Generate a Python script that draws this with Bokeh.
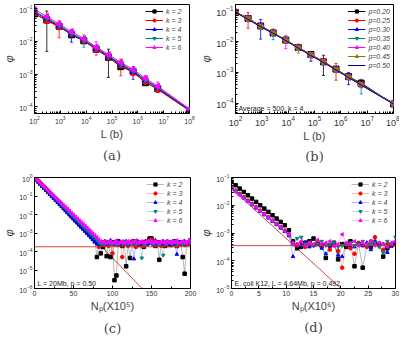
import math
from bokeh.plotting import figure
from bokeh.models import (ColumnDataSource, Whisker, TeeHead, Legend, LegendItem, Label,
                          Span, FixedTicker, Title)
from bokeh.layouts import column, row
from bokeh.embed import file_html
from bokeh.resources import INLINE

# ---------------- data ----------------
# (a) phi vs L for several k
L_a = [100, 300, 900, 2700, 8100, 24300, 72900, 218700, 656100, 1968300, 5904900, 1e8]
k_labels = ["k = 2", "k = 3", "k = 4", "k = 5", "k = 6"]
phi_a_k2 = [0.070, 0.045, 0.029, 0.016, 0.0105, 0.0058, 0.0033, 0.0017, 0.0012, 0.00055, 0.00036, 0.000078]
phi_a_k3 = [0.072, 0.043, 0.028, 0.017, 0.0108, 0.0056, 0.0034, 0.0019, 0.0011, 0.00060, 0.00034, 0.000076]
phi_a_k4 = [0.078, 0.050, 0.030, 0.0165, 0.0110, 0.0062, 0.0035, 0.0020, 0.0012, 0.00065, 0.00038, 0.000080]
phi_a_k5 = [0.082, 0.052, 0.031, 0.0180, 0.0112, 0.0064, 0.0037, 0.0021, 0.0013, 0.00068, 0.00040, 0.000084]
phi_a_k6 = [0.095, 0.058, 0.034, 0.0200, 0.0122, 0.0068, 0.0040, 0.0023, 0.0014, 0.00075, 0.00043, 0.000088]
sig_a_k2 = [0.004, 0.040, 0.003, 0.002, 0.001, 0.0005, 0.0025, 0.0002, 0.0001, 0.00005, 0.00003, 0.000004]
sig_a_k3 = [0.004, 0.004, 0.015, 0.002, 0.001, 0.0006, 0.0003, 0.0010, 0.0001, 0.00006, 0.00003, 0.000004]
sig_a_k4 = [0.004, 0.004, 0.003, 0.007, 0.001, 0.0006, 0.0003, 0.0002, 0.0005, 0.00006, 0.00004, 0.000004]
sig_a_k5 = [0.004, 0.004, 0.003, 0.002, 0.0045, 0.0006, 0.0003, 0.0002, 0.0001, 0.00020, 0.00004, 0.000004]
sig_a_k6 = [0.005, 0.005, 0.006, 0.003, 0.001, 0.0030, 0.0004, 0.0003, 0.0001, 0.00015, 0.00015, 0.000005]

# (b) phi vs L for several p
L_b = [100, 300, 900, 2700, 8100, 24300, 72900, 218700, 656100, 1968300, 5904900, 1e8]
p_labels = ["p=0.20", "p=0.25", "p=0.30", "p=0.35", "p=0.40", "p=0.45", "p=0.50"]
phi_b_20 = [0.088, 0.056, 0.032, 0.0190, 0.0112, 0.0064, 0.0038, 0.0022, 0.00128, 0.00073, 0.00045, 0.000095]
phi_b_25 = [0.092, 0.057, 0.031, 0.0195, 0.0110, 0.0066, 0.0037, 0.0023, 0.00126, 0.00072, 0.00041, 0.000098]
phi_b_30 = [0.087, 0.054, 0.032, 0.0190, 0.0108, 0.0063, 0.0036, 0.0022, 0.00124, 0.00070, 0.00040, 0.000100]
phi_b_35 = [0.090, 0.055, 0.030, 0.0185, 0.0112, 0.0065, 0.0037, 0.0021, 0.00125, 0.00071, 0.00040, 0.000097]
phi_b_40 = [0.089, 0.054, 0.031, 0.0190, 0.0109, 0.0063, 0.0036, 0.0022, 0.00122, 0.00069, 0.00039, 0.000099]
phi_b_45 = [0.088, 0.055, 0.031, 0.0190, 0.0111, 0.0062, 0.0037, 0.0022, 0.00124, 0.00071, 0.00040, 0.000096]
phi_b_50 = [0.088, 0.052, 0.030, 0.0185, 0.0107, 0.0061, 0.0035, 0.0021, 0.00120, 0.00068, 0.00039, 0.000094]
sig_b_20 = [0.006, 0.004, 0.002, 0.0012, 0.0008, 0.0005, 0.0003, 0.0014, 0.0001, 0.00005, 0.00005, 0.000006]
sig_b_25 = [0.012, 0.030, 0.002, 0.0012, 0.0008, 0.0005, 0.0003, 0.0002, 0.0007, 0.00005, 0.00003, 0.000006]
sig_b_30 = [0.005, 0.004, 0.020, 0.0012, 0.0008, 0.0005, 0.0003, 0.0002, 0.0001, 0.0003, 0.00003, 0.000006]
sig_b_35 = [0.005, 0.004, 0.002, 0.0070, 0.0008, 0.0005, 0.0003, 0.0002, 0.0001, 0.00005, 0.0002, 0.000006]
sig_b_40 = [0.005, 0.004, 0.002, 0.0012, 0.0050, 0.0005, 0.0003, 0.0002, 0.0001, 0.00005, 0.00003, 0.000006]
sig_b_45 = [0.005, 0.004, 0.002, 0.0012, 0.0008, 0.0020, 0.0003, 0.0002, 0.0001, 0.00005, 0.00003, 0.000006]
sig_b_50 = [0.005, 0.004, 0.002, 0.0012, 0.0008, 0.0005, 0.0012, 0.0002, 0.0001, 0.00005, 0.00003, 0.000006]

# (c) log10(phi) vs N_p (x10^5), L = 20Mb, p = 0.50
N_c = [i * 2.5 for i in range(81)]
c_k2_decay = [0, -0.11, -0.22, -0.33, -0.44, -0.55, -0.66, -0.77, -0.88, -0.99,
              -1.10, -1.20, -1.31, -1.42, -1.53, -1.64, -1.75, -1.86, -1.97, -2.08,
              -2.19, -2.30, -2.41, -2.52, -2.62, -2.73, -2.84, -2.95, -3.06, -3.17,
              -3.30, -3.45, -4.30, -3.60, -4.10]
c_k2_noise = [-3.75, -3.60, -4.25, -3.55, -4.30, -3.50, -5.55, -5.30, -3.45, -3.60,
              -3.70, -3.50, -4.80, -3.60, -4.35, -3.55, -3.45, -3.70, -3.55, -3.65,
              -3.50, -3.75, -3.60, -3.50, -3.30, -3.30, -3.55, -3.70, -3.50, -4.45,
              -3.60, -3.55, -3.70, -3.50, -3.60, -3.65, -3.55, -3.45, -3.70, -3.60,
              -3.50, -4.30, -5.20, -3.60, -3.55, -3.40]
c_k3_decay = [0, -0.10, -0.21, -0.32, -0.43, -0.53, -0.64, -0.75, -0.86, -0.96,
              -1.07, -1.18, -1.29, -1.39, -1.50, -1.61, -1.72, -1.82, -1.93, -2.04,
              -2.15, -2.25, -2.36, -2.47, -2.58, -2.68, -2.79, -2.90, -3.01, -3.11,
              -3.22, -3.33, -3.45, -3.75, -3.60]
c_k3_noise = [-3.55, -3.65, -3.50, -3.70, -3.55, -4.10, -3.60, -3.50, -3.65, -3.55,
              -4.30, -3.60, -3.50, -3.70, -3.55, -3.45, -3.60, -3.75, -3.50, -3.60,
              -3.55, -3.70, -3.45, -3.60, -3.50, -3.35, -3.55, -3.65, -3.60, -3.50,
              -3.70, -3.55, -3.60, -3.45, -3.65, -3.55, -3.60, -3.50, -3.70, -3.55,
              -3.60, -3.50, -3.65, -3.55, -3.60, -3.50]
c_k4_decay = [0, -0.11, -0.22, -0.34, -0.45, -0.56, -0.67, -0.78, -0.90, -1.01,
              -1.12, -1.23, -1.34, -1.46, -1.57, -1.68, -1.79, -1.90, -2.02, -2.13,
              -2.24, -2.35, -2.46, -2.58, -2.69, -2.80, -2.91, -3.02, -3.14, -3.25,
              -3.36, -3.47, -3.58, -3.65, -3.55]
c_k4_noise = [-3.50, -3.45, -3.60, -3.55, -3.40, -3.60, -3.50, -3.65, -3.45, -3.55,
              -3.60, -3.50, -3.45, -3.65, -3.55, -3.50, -4.40, -3.55, -3.45, -3.60,
              -3.50, -3.55, -3.45, -3.60, -3.50, -3.55, -3.65, -3.40, -3.55, -3.50,
              -3.60, -3.45, -3.55, -3.50, -3.65, -3.55, -3.45, -3.60, -4.15, -3.50,
              -3.55, -3.60, -3.45, -3.55, -3.50, -3.45]
c_k5_decay = [0, -0.10, -0.21, -0.32, -0.42, -0.53, -0.63, -0.74, -0.84, -0.95,
              -1.05, -1.16, -1.26, -1.37, -1.48, -1.58, -1.69, -1.79, -1.90, -2.00,
              -2.11, -2.22, -2.32, -2.43, -2.53, -2.64, -2.74, -2.85, -2.95, -3.06,
              -3.17, -3.27, -3.38, -3.50, -3.60]
c_k5_noise = [-3.55, -3.60, -3.50, -3.45, -3.60, -3.55, -3.50, -3.65, -3.55, -3.50,
              -3.60, -3.45, -3.55, -3.60, -3.50, -3.55, -3.45, -3.60, -3.55, -3.50,
              -4.35, -3.55, -3.60, -3.50, -3.45, -3.55, -3.60, -3.50, -3.55, -3.65,
              -3.50, -4.20, -3.55, -3.60, -3.50, -3.45, -3.55, -3.50, -3.60, -3.55,
              -3.50, -3.60, -3.55, -3.50, -3.45, -3.55]
c_k6_decay = [0, -0.10, -0.20, -0.30, -0.40, -0.50, -0.60, -0.70, -0.81, -0.91,
              -1.01, -1.11, -1.21, -1.31, -1.41, -1.51, -1.61, -1.71, -1.81, -1.92,
              -2.02, -2.12, -2.22, -2.32, -2.42, -2.52, -2.62, -2.72, -2.82, -2.92,
              -3.03, -3.13, -3.23, -3.35, -3.45]
c_k6_noise = [-3.50, -3.45, -3.55, -3.50, -3.45, -3.55, -3.50, -3.40, -3.55, -3.50,
              -3.45, -3.55, -3.50, -3.45, -3.55, -3.50, -3.45, -3.40, -3.55, -3.50,
              -3.45, -3.55, -3.50, -3.45, -3.40, -3.50, -3.55, -3.45, -3.50, -3.55,
              -3.45, -3.50, -3.55, -3.45, -3.50, -3.55, -3.45, -3.50, -3.40, -3.55,
              -3.50, -3.45, -3.50, -3.55, -3.45, -3.35]
c_sat_level = 1.8e-4
c_fit_N = [0, 150]
c_fit_phi = [1.0, 3.0e-7]

# (d) log10(phi) vs N_p (x10^6), E. coli K12
N_d = [i * 0.75 for i in range(41)]
d_k2_decay = [-1.16, -1.28, -1.40, -1.52, -1.64, -1.76, -1.88, -2.00, -2.12, -2.24,
              -2.36, -2.48, -2.60, -2.72, -2.90]
d_k2_noise = [-3.30, -3.55, -3.50, -3.35, -3.30, -3.20, -3.40, -3.45, -3.90, -3.45,
              -3.35, -3.95, -3.40, -3.50, -3.30, -4.20, -3.40, -4.25, -3.45, -3.50,
              -3.35, -3.40, -3.85, -3.55, -3.45, -3.40]
d_k3_decay = [-1.35, -1.47, -1.59, -1.71, -1.83, -1.95, -2.07, -2.19, -2.31, -2.43,
              -2.55, -2.67, -2.79, -2.91, -3.05]
d_k3_noise = [-3.40, -3.45, -3.35, -3.50, -3.40, -3.45, -3.30, -3.50, -3.40, -3.60,
              -3.45, -3.65, -4.25, -3.40, -3.55, -3.75, -3.35, -3.45, -3.50, -3.30,
              -3.15, -3.45, -3.60, -3.40, -3.45, -3.35]
d_k4_decay = [-1.38, -1.50, -1.62, -1.74, -1.86, -1.98, -2.10, -2.22, -2.34, -2.46,
              -2.58, -2.70, -2.82, -2.95, -3.10]
d_k4_noise = [-3.85, -3.40, -3.45, -3.35, -3.50, -3.45, -3.40, -3.55, -3.75, -3.45,
              -3.40, -3.80, -3.85, -3.40, -3.45, -3.50, -3.40, -3.45, -3.35, -3.60,
              -3.30, -3.45, -3.40, -3.70, -3.45, -3.35]
d_k5_decay = [-1.36, -1.48, -1.60, -1.72, -1.84, -1.96, -2.08, -2.20, -2.32, -2.44,
              -2.56, -2.68, -2.80, -2.93, -3.08]
d_k5_noise = [-3.40, -3.20, -3.15, -3.40, -3.35, -3.45, -3.40, -3.30, -3.45, -3.40,
              -3.35, -3.50, -3.45, -3.40, -3.35, -3.45, -3.40, -3.30, -3.45, -3.40,
              -3.35, -3.50, -3.70, -3.30, -3.40, -3.15]
d_k6_decay = [-1.40, -1.52, -1.63, -1.75, -1.86, -1.98, -2.09, -2.21, -2.32, -2.44,
              -2.55, -2.67, -2.78, -2.92, -3.05]
d_k6_noise = [-3.35, -3.40, -3.30, -3.45, -3.35, -3.40, -3.25, -3.40, -3.35, -3.30,
              -3.45, -3.40, -3.05, -3.35, -3.40, -3.30, -3.45, -3.35, -3.40, -3.30,
              -3.45, -3.35, -3.40, -3.50, -3.35, -3.30]
d_sat_level = 3.5e-4
d_fit_N = [0, 22]
d_fit_phi = [0.04, 4.4e-6]

# ticks
ab_x_ticks = [1e2, 1e3, 1e4, 1e5, 1e6, 1e7, 1e8]
a_y_ticks = [1e-4, 1e-3, 1e-2, 1e-1]
c_y_ticks = [1e-6, 1e-5, 1e-4, 1e-3, 1e-2, 1e-1, 1e0]
d_y_ticks = [1e-5, 1e-4, 1e-3, 1e-2, 1e-1]
c_x_ticks = [0, 50, 100, 150, 200]
d_x_ticks = [0, 5, 10, 15, 20, 25, 30]

# ---------------- styles ----------------
COLORS = ["#000000", "#ff0000", "#0000ff", "#008080", "#ff00ff", "#808000", "#000080"]
MARKERS = [("square", 0), ("circle", 0), ("triangle", 0), ("inverted_triangle", 0),
           ("triangle", math.pi / 2), ("triangle", -math.pi / 2), ("hexagon", 0)]
SANS = "Liberation Sans"
SERIF = "DejaVu Serif"


def minor_log(lo_exp, hi_exp):
    return [m * 10.0 ** e for e in range(lo_exp, hi_exp) for m in range(2, 10)]


def style(p, tick_px):
    p.xgrid.visible = False
    p.ygrid.visible = False
    p.outline_line_color = "black"
    p.outline_line_width = 1
    for ax in list(p.xaxis) + list(p.yaxis):
        ax.major_tick_in = 3
        ax.major_tick_out = 0
        ax.minor_tick_in = 2
        ax.minor_tick_out = 0
        ax.major_label_text_font = SANS
        ax.major_label_text_font_size = tick_px
        ax.major_label_text_color = "#333333"
        ax.major_label_standoff = 2
        ax.axis_label_standoff = 1
        ax.axis_label_text_font = SANS
        ax.axis_label_text_font_style = "normal"
        ax.axis_line_color = "black"
    p.yaxis.axis_label_text_font_style = "italic"


def legend(p, items, font="7px"):
    lg = Legend(items=items, location="top_right", background_fill_alpha=0,
                border_line_alpha=0, label_text_font_size=font, label_text_font=SANS,
                label_text_font_style="italic",
                glyph_width=18, glyph_height=8, label_height=8, spacing=1,
                padding=1, margin=2, label_standoff=3)
    p.add_layout(lg)


def caption(p, text, standoff):
    p.add_layout(Title(text=text, align="center", text_font=SERIF, text_font_size="13px",
                       text_font_style="normal", standoff=standoff), "below")


def errorbar_panel(p, xs, series, sigmas, labels, msize):
    items = []
    for i, (vals, sig, lab) in enumerate(zip(series, sigmas, labels)):
        c = COLORS[i]
        m, ang = MARKERS[i]
        src = ColumnDataSource(dict(x=xs, y=vals,
                                    lo=[v - s for v, s in zip(vals, sig)],
                                    hi=[v + s for v, s in zip(vals, sig)]))
        w = Whisker(source=src, base="x", upper="hi", lower="lo", line_color=c, line_width=0.8,
                    upper_head=TeeHead(size=3, line_color=c, line_width=0.8),
                    lower_head=TeeHead(size=3, line_color=c, line_width=0.8))
        p.add_layout(w)
        rl = p.line("x", "y", source=src, line_color=c, line_width=1)
        rs = p.scatter("x", "y", source=src, marker=m, angle=ang, size=msize,
                       fill_color=c, line_color=c)
        items.append(LegendItem(label=lab, renderers=[rl, rs]))
    return items


def scatter_panel(p, xs, logseries, labels):
    items = []
    for i, (lv, lab) in enumerate(zip(logseries, labels)):
        c = COLORS[i]
        m, ang = MARKERS[i]
        src = ColumnDataSource(dict(x=xs, y=[10.0 ** v for v in lv]))
        rl = p.line("x", "y", source=src, line_color=c, line_alpha=0.35, line_width=0.8)
        rs = p.scatter("x", "y", source=src, marker=m, angle=ang, size=3.5,
                       fill_color=c, line_color=c)
        items.append(LegendItem(label=lab, renderers=[rl, rs]))
    return items


# ---------------- panel (a) ----------------
pa = figure(width=197, height=168, x_axis_type="log", y_axis_type="log",
            x_range=(1e2, 1e8), y_range=(10 ** -4.2, 10 ** -0.87),
            output_backend="svg", toolbar_location=None,
            min_border_left=25, min_border_right=8, min_border_top=1, min_border_bottom=55)
style(pa, "7px")
pa.xaxis.ticker = FixedTicker(ticks=ab_x_ticks, minor_ticks=minor_log(2, 8))
pa.yaxis.ticker = FixedTicker(ticks=a_y_ticks, minor_ticks=minor_log(-5, -1))
pa.xaxis.axis_label = "L (b)"
pa.yaxis.axis_label = "φ"
pa.xaxis.axis_label_text_font_size = "11px"
pa.yaxis.axis_label_text_font_size = "11px"
items_a = errorbar_panel(pa, L_a, [phi_a_k2, phi_a_k3, phi_a_k4, phi_a_k5, phi_a_k6],
                         [sig_a_k2, sig_a_k3, sig_a_k4, sig_a_k5, sig_a_k6], k_labels, 6)
legend(pa, items_a)
caption(pa, "(a)", 7)

# ---------------- panel (b) ----------------
pb = figure(width=202, height=168, x_axis_type="log", y_axis_type="log",
            x_range=(1e2, 1e8), y_range=(10 ** -4.33, 10 ** -0.8),
            output_backend="svg", toolbar_location=None,
            min_border_left=33, min_border_right=6, min_border_top=4, min_border_bottom=49)
style(pb, "9px")
pb.xaxis.ticker = FixedTicker(ticks=ab_x_ticks, minor_ticks=minor_log(2, 8))
pb.yaxis.ticker = FixedTicker(ticks=a_y_ticks, minor_ticks=minor_log(-5, -1))
pb.xaxis.axis_label = "L (b)"
pb.yaxis.axis_label = "φ"
pb.xaxis.axis_label_text_font_size = "11px"
pb.yaxis.axis_label_text_font_size = "11px"
items_b = errorbar_panel(pb, L_b, [phi_b_20, phi_b_25, phi_b_30, phi_b_35, phi_b_40, phi_b_45, phi_b_50],
                         [sig_b_20, sig_b_25, sig_b_30, sig_b_35, sig_b_40, sig_b_45, sig_b_50],
                         p_labels, 6)
legend(pb, items_b)
pb.add_layout(Label(x=3, y=2, x_units="screen", y_units="screen", text="Average = 500, k = 4",
                    text_font=SANS, text_font_size="7px", text_color="#222222"))
caption(pb, "(b)", 5)

# ---------------- panel (c) ----------------
pc = figure(width=197, height=172, y_axis_type="log",
            x_range=(0, 200), y_range=(1e-6, 1.0),
            output_backend="svg", toolbar_location=None,
            min_border_left=25, min_border_right=7, min_border_top=9, min_border_bottom=43)
style(pc, "7px")
pc.xaxis.ticker = FixedTicker(ticks=c_x_ticks, minor_ticks=[25, 75, 125, 175])
pc.yaxis.ticker = FixedTicker(ticks=c_y_ticks, minor_ticks=[])
pc.xaxis.axis_label = "Nₚ(X10⁵)"
pc.yaxis.axis_label = "φ"
pc.xaxis.axis_label_text_font_size = "11px"
pc.yaxis.axis_label_text_font_size = "11px"
pc.add_layout(Span(location=c_sat_level, dimension="width", line_color="#d03030", line_width=0.9))
pc.line(c_fit_N, c_fit_phi, line_color="#d03030", line_width=0.9)
items_c = scatter_panel(pc, N_c, [c_k2_decay + c_k2_noise, c_k3_decay + c_k3_noise,
                                  c_k4_decay + c_k4_noise, c_k5_decay + c_k5_noise,
                                  c_k6_decay + c_k6_noise], k_labels)
legend(pc, items_c)
pc.add_layout(Label(x=3, y=2, x_units="screen", y_units="screen", text="L = 20Mb, p = 0.50",
                    text_font=SANS, text_font_size="7px", text_color="#222222"))
caption(pc, "(c)", 9)

# ---------------- panel (d) ----------------
pd_ = figure(width=202, height=172, y_axis_type="log",
             x_range=(0, 30), y_range=(1e-5, 1e-1),
             output_backend="svg", toolbar_location=None,
             min_border_left=32, min_border_right=4, min_border_top=9, min_border_bottom=40)
style(pd_, "7px")
pd_.xaxis.ticker = FixedTicker(ticks=d_x_ticks, minor_ticks=[2.5, 7.5, 12.5, 17.5, 22.5, 27.5])
pd_.yaxis.ticker = FixedTicker(ticks=d_y_ticks, minor_ticks=minor_log(-5, -1))
pd_.xaxis.axis_label = "Nₚ(X10⁶)"
pd_.yaxis.axis_label = "φ"
pd_.xaxis.axis_label_text_font_size = "11px"
pd_.yaxis.axis_label_text_font_size = "11px"
pd_.add_layout(Span(location=d_sat_level, dimension="width", line_color="#d03030", line_width=0.9))
pd_.line(d_fit_N, d_fit_phi, line_color="#d03030", line_width=0.9)
items_d = scatter_panel(pd_, N_d, [d_k2_decay + d_k2_noise, d_k3_decay + d_k3_noise,
                                   d_k4_decay + d_k4_noise, d_k5_decay + d_k5_noise,
                                   d_k6_decay + d_k6_noise], k_labels)
legend(pd_, items_d)
pd_.add_layout(Label(x=3, y=2, x_units="screen", y_units="screen",
                     text="E. coli K12, L = 4.64Mb, p = 0.492",
                     text_font=SANS, text_font_size="7px", text_color="#222222"))
caption(pd_, "(d)", 7)

layout = column(row(pa, pb), row(pc, pd_))
open("out.html", "w").write(file_html(layout, INLINE))
